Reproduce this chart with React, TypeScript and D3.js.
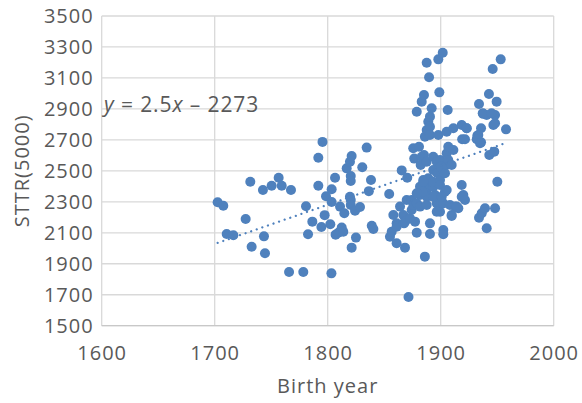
import React from "react";
import * as d3 from "d3";

// Birth year of each author and the STTR(5000) score of the corresponding text
const birthYears: number[] = [
  1702.6, 1707.6, 1710.6, 1716.5, 1727.4, 1731.5, 1732.7, 1742.7, 1743.6, 1744.5,
  1750.4, 1756.6, 1759.3, 1765.8, 1767.5, 1778.4, 1780.8, 1782.6, 1786.4, 1791.7,
  1791.7, 1795.4, 1794.4, 1797.3, 1798.5, 1802.3, 1803.5, 1803.5, 1803.3, 1806.5,
  1807.0, 1809.4, 1810.9, 1812.4, 1813.8, 1814.7, 1816.8, 1819.7, 1821.2, 1820.4,
  1820.4, 1819.7, 1820.4, 1820.4, 1821.2, 1824.2, 1825.0, 1828.6, 1830.6, 1834.5,
  1836.4, 1838.3, 1839.0, 1840.4, 1854.4, 1855.1, 1856.6, 1858.1, 1861.0, 1861.0,
  1861.0, 1864.0, 1865.5, 1866.9, 1867.5, 1868.4, 1868.4, 1869.9, 1870.4, 1871.5,
  1872.8, 1874.3, 1874.3, 1875.8, 1875.7, 1876.6, 1877.3, 1878.8, 1878.8, 1878.8,
  1880.8, 1881.7, 1881.7, 1881.7, 1882.3, 1883.2, 1883.2, 1884.6, 1885.2, 1885.2,
  1886.0, 1886.0, 1887.6, 1887.6, 1887.6, 1887.6, 1887.6, 1887.6, 1889.0, 1889.0,
  1889.7, 1890.5, 1890.5, 1890.5, 1890.5, 1890.5, 1890.5, 1892.0, 1893.4, 1893.4,
  1893.5, 1892.9, 1895.0, 1896.5, 1896.5, 1897.0, 1897.9, 1897.9, 1898.8, 1899.4,
  1899.4, 1899.4, 1899.4, 1900.0, 1901.8, 1902.3, 1902.3, 1902.3, 1903.8, 1905.3,
  1905.3, 1905.3, 1905.3, 1906.2, 1906.7, 1906.7, 1908.2, 1909.7, 1909.7, 1911.2,
  1911.2, 1912.7, 1915.6, 1918.6, 1918.6, 1919.0, 1920.0, 1923.0, 1932.4, 1933.9,
  1933.9, 1935.7, 1936.3, 1937.2, 1939.2, 1940.7, 1940.7, 1942.7, 1943.0, 1946.0,
  1946.6, 1947.4, 1948.1, 1948.1, 1948.1, 1949.5, 1950.1, 1953.1, 1957.8, 1896.5,
  1909.7, 1918.6, 1921.5, 1914.2, 1937.6, 1945.0, 1935.7, 1933.3, 1931.9, 1934.8,
  1923.0, 1921.5, 1887.6, 1893.4, 1903.8, 1900.9, 1884.6, 1884.0, 1878.8,
];

const sttrValues: number[] = [
  2297, 2275, 2092, 2084, 2189, 2430, 2010, 2376, 2077, 1968,
  2404, 2456, 2404, 1847, 2376, 1847, 2271, 2090, 2172, 2585,
  2404, 2687, 2137, 2214, 2336, 2155, 2381, 2299, 1838, 2456,
  2088, 2100, 2269, 2134, 2107, 2226, 2516, 2559, 2596, 2467,
  2435, 2333, 2312, 2280, 2004, 2243, 2069, 2266, 2523, 2650,
  2369, 2441, 2146, 2125, 2351, 2075, 2107, 2215, 2161, 2139,
  2032, 2269, 2503, 2215, 2161, 2172, 2004, 2312, 2456, 1685,
  2193, 2247, 2312, 2280, 2646, 2579, 2172, 2101, 2290, 2882,
  2656, 2398, 2344, 2269, 2538, 2947, 2591, 2441, 2990, 2602,
  2721, 1946, 3198, 2764, 2559, 2376, 2344, 2280, 2817, 2452,
  3104, 2850, 2785, 2731, 2398, 2161, 2092, 2904, 2591, 2506,
  2398, 2430, 2344, 2559, 2290, 2484, 3220, 2731, 3007, 2570,
  2441, 2409, 2236, 2527, 3263, 2290, 2118, 2090, 2484, 2753,
  2613, 2538, 2376, 2893, 2656, 2570, 2280, 2538, 2215, 2775,
  2635, 2269, 2258, 2796, 2409, 2704, 2344, 2775, 2727, 2932,
  2197, 2684, 2226, 2872, 2258, 2861, 2129, 2996, 2602, 3158,
  2796, 2624, 2861, 2807, 2258, 2947, 2430, 3220, 2768, 2236,
  2208, 2333, 2312, 2269, 2868, 2872, 2775, 2731, 2704, 2678,
  2775, 2704, 2333, 2333, 2365, 2333, 2430, 2365, 2355,
];

// Axis ticks
const xTicks: number[] = [1600, 1700, 1800, 1900, 2000];
const yTicks: number[] = [1500, 1700, 1900, 2100, 2300, 2500, 2700, 2900, 3100, 3300, 3500];

// Linear trendline coefficients
const trendSlope = 2.53;
const trendIntercept = -2273;

const xTitle = "Birth year";
const yTitle = "STTR(5000)";

const WIDTH = 582;
const HEIGHT = 403;
const plot = { left: 101.7, right: 553.7, top: 16, bottom: 325.7 };

const BLUE = "#4F81BD";
const GRID = "#D9D9D9";
const TEXT = "#595959";
const FONT = "'Open Sans', 'Noto Sans', sans-serif";

export default function App() {
  const x = d3.scaleLinear().domain([1600, 2000]).range([plot.left, plot.right]);
  const y = d3.scaleLinear().domain([1500, 3500]).range([plot.bottom, plot.top]);

  const points = birthYears.map((yr, i) => ({ yr, v: sttrValues[i] }));
  const [minYear, maxYear] = d3.extent(birthYears) as [number, number];
  const trend = d3
    .line<number>()
    .x((d) => x(d))
    .y((d) => y(trendSlope * d + trendIntercept));
  const trendPath = trend([minYear, maxYear]) ?? "";

  const fmtSlope = d3.format(".1f");

  return (
    <svg
      width={WIDTH}
      height={HEIGHT}
      style={{ position: "absolute", left: 0, top: 0, background: "#fff" }}
      fontFamily={FONT}
    >
      <rect width={WIDTH} height={HEIGHT} fill="#fff" />
      {/* gridlines */}
      {yTicks.map((t) => (
        <line key={"gy" + t} x1={plot.left} x2={plot.right} y1={y(t)} y2={y(t)} stroke={GRID} strokeWidth={1.3} />
      ))}
      {xTicks.map((t) => (
        <line key={"gx" + t} x1={x(t)} x2={x(t)} y1={plot.top} y2={plot.bottom} stroke={GRID} strokeWidth={1.3} />
      ))}
      <line x1={plot.left} x2={plot.right} y1={plot.bottom} y2={plot.bottom} stroke="#C8C8C8" strokeWidth={1.3} />

      {/* tick labels */}
      {yTicks.map((t) => (
        <text
          key={"ty" + t}
          x={plot.left - 8}
          y={y(t)}
          dy="0.35em"
          textAnchor="end"
          fontSize={20}
          letterSpacing={1}
          fill={TEXT}
        >
          {t}
        </text>
      ))}
      {xTicks.map((t) => (
        <text
          key={"tx" + t}
          x={x(t) + 0.5}
          y={360}
          textAnchor="middle"
          fontSize={20}
          letterSpacing={1}
          fill={TEXT}
        >
          {t}
        </text>
      ))}

      {/* axis titles */}
      <text x={(plot.left + plot.right) / 2} y={393} textAnchor="middle" fontSize={20} letterSpacing={1} fill={TEXT}>
        {xTitle}
      </text>
      <text
        transform={`translate(28.5, ${(plot.top + plot.bottom) / 2}) rotate(-90)`}
        textAnchor="middle"
        fontSize={20}
        letterSpacing={1}
        fill={TEXT}
      >
        {yTitle}
      </text>

      {/* data points */}
      {points.map((p, i) => (
        <circle key={i} cx={x(p.yr)} cy={y(p.v)} r={5} fill={BLUE} />
      ))}

      {/* trendline */}
      <path
        d={trendPath}
        fill="none"
        stroke={BLUE}
        strokeWidth={2.3}
        strokeLinecap="round"
        strokeDasharray="0.01 5.9"
      />

      {/* trendline equation */}
      <text x={104} y={111.5} fontSize={21} letterSpacing={0.9} fill={TEXT}>
        <tspan fontStyle="italic">y</tspan>
        {` = ${fmtSlope(trendSlope)}`}
        <tspan fontStyle="italic">x</tspan>
        {` – ${Math.abs(trendIntercept)}`}
      </text>
    </svg>
  );
}
